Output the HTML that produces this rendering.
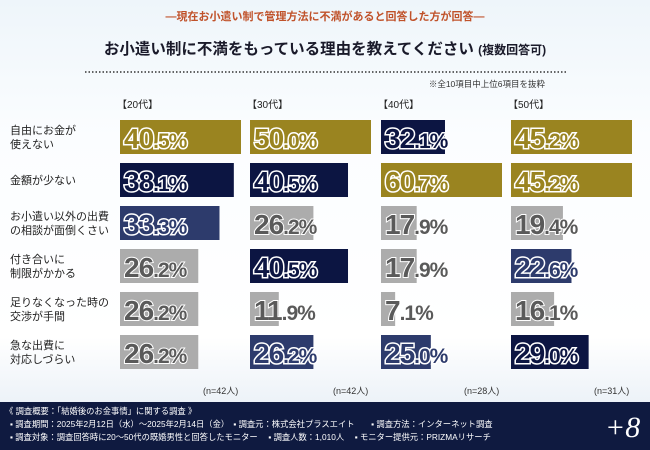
<!DOCTYPE html>
<html><head><meta charset="utf-8"><style>
body{margin:0;width:650px;height:450px;overflow:hidden;font-family:"Liberation Sans","Noto Sans CJK JP",sans-serif;}
</style></head><body>
<svg id="chart" width="650" height="450" viewBox="0 0 650 450" xmlns="http://www.w3.org/2000/svg" style="display:block">
<defs>
<linearGradient id="bg" x1="0" y1="0" x2="0" y2="1">
<stop offset="0" stop-color="#eef5fa"/><stop offset="0.3" stop-color="#fbfdff"/><stop offset="0.75" stop-color="#ffffff"/><stop offset="1" stop-color="#dfe9f3"/>
</linearGradient>
</defs>
<rect width="650" height="450" fill="url(#bg)"/>
<text x="325" y="20" text-anchor="middle" font-size="11" font-weight="bold" fill="#c0522a">―現在お小遣い制で管理方法に不満があると回答した方が回答―</text>
<text x="325" y="54" text-anchor="middle" font-size="15.5" font-weight="bold" fill="#1a1a2a">お小遣い制に不満をもっている理由を教えてください <tspan font-size="12">(複数回答可)</tspan></text>
<line x1="85" y1="72" x2="568" y2="72" stroke="#333" stroke-width="1.5" stroke-dasharray="1.5 2"/>
<text x="545" y="87" text-anchor="end" font-size="8.5" fill="#333">※全10項目中上位6項目を抜粋</text>
<g id="plot"></g>
<rect x="0" y="402" width="650" height="48" fill="#0f1a40"/>
<g font-size="8.3" fill="#ffffff">
<text x="5" y="414">《 調査概要：「結婚後のお金事情」に関する調査 》</text>
<text x="10" y="427">▪ 調査期間：2025年2月12日（水）～2025年2月14日（金）　▪ 調査元：株式会社プラスエイト　　▪ 調査方法：インターネット調査</text>
<text x="10" y="440">▪ 調査対象：調査回答時に20～50代の既婚男性と回答したモニター　 ▪ 調査人数：1,010人　 ▪ モニター提供元：PRIZMAリサーチ</text>
</g>
<text x="605" y="437" font-family="Liberation Serif,serif" font-style="italic" font-size="30" fill="#ffffff">+8</text>
</svg>
<script>
const groups = ["【20代】","【30代】","【40代】","【50代】"];
const sampleLabels = ["(n=42人)","(n=42人)","(n=28人)","(n=31人)"];
const reasons = [["自由にお金が","使えない"],["金額が少ない"],["お小遣い以外の出費","の相談が面倒くさい"],["付き合いに","制限がかかる"],["足りなくなった時の","交渉が手間"],["急な出費に","対応しづらい"]];
const values20 = [40.5,38.1,33.3,26.2,26.2,26.2];
const values30 = [50.0,40.5,26.2,40.5,11.9,26.2];
const values40 = [32.1,60.7,17.9,17.9,7.1,25.0];
const values50 = [45.2,45.2,19.4,22.6,16.1,29.0];
const colors20 = ["gold","navy","mid","gray","gray","gray"];
const colors30 = ["gold","navy","gray","navy","gray","mid"];
const colors40 = ["navy","gold","gray","gray","gray","mid"];
const colors50 = ["gold","gold","gray","mid","gray","navy"];
const series=[values20,values30,values40,values50];
const cseries=[colors20,colors30,colors40,colors50];
const pal={gold:"#9a8420",navy:"#0c1542",mid:"#2d3b6c",gray:"#acacac"};
const NS="http://www.w3.org/2000/svg";
const plot=document.getElementById('plot');
const colX=[120,250,381,511], maxW=121, top0=120, pitch=43, barH=34;
function xScale(v,col){const m=Math.max(...series[col]);return v/m*maxW;}
function yPos(i){return top0+i*pitch;}
function mk(t,a){const e=document.createElementNS(NS,t);for(const k in a)e.setAttribute(k,a[k]);plot.appendChild(e);return e;}
reasons.forEach((r,i)=>{
  const t=mk('text',{x:10,y:yPos(i)+(r.length>1?14:21),'font-size':11,fill:'#222'});
  
  
  r.forEach((l,j)=>{const s=document.createElementNS(NS,'tspan');s.setAttribute('x',10);if(j)s.setAttribute('dy',14);s.textContent=l;t.appendChild(s);});
});
groups.forEach((g,c)=>{
  const h=mk('text',{x:colX[c]-3,y:108,'font-size':10,fill:'#222'});
  
  
  h.textContent=g;
  const n=mk('text',{x:colX[c]+83,y:394,'font-size':9,fill:'#333'});
  
  
  n.textContent=sampleLabels[c];
  series[c].forEach((v,i)=>{
    const col=pal[cseries[c][i]];
    const b=mk('rect',{x:colX[c],y:yPos(i),width:xScale(v,c),height:barH,fill:col});
    
    
    const parts=v.toFixed(1).split('.');
    const gray=cseries[c][i]==='gray';
    const t=mk('text',{x:colX[c]+4,y:yPos(i)+28,'font-size':28,'font-weight':'bold',fill:gray?'#5a5a5a':col,stroke:'#fff','stroke-width':gray?2:3,'paint-order':'stroke','letter-spacing':'-1','font-family':'Liberation Sans Narrow,Liberation Sans,sans-serif'});
    
    
    const a=document.createElementNS(NS,'tspan');a.textContent=parts[0];t.appendChild(a);
    const d=document.createElementNS(NS,'tspan');d.setAttribute('font-size',21);d.textContent='.'+parts[1]+'%';t.appendChild(d);
  });
});
</script>
</body></html>
